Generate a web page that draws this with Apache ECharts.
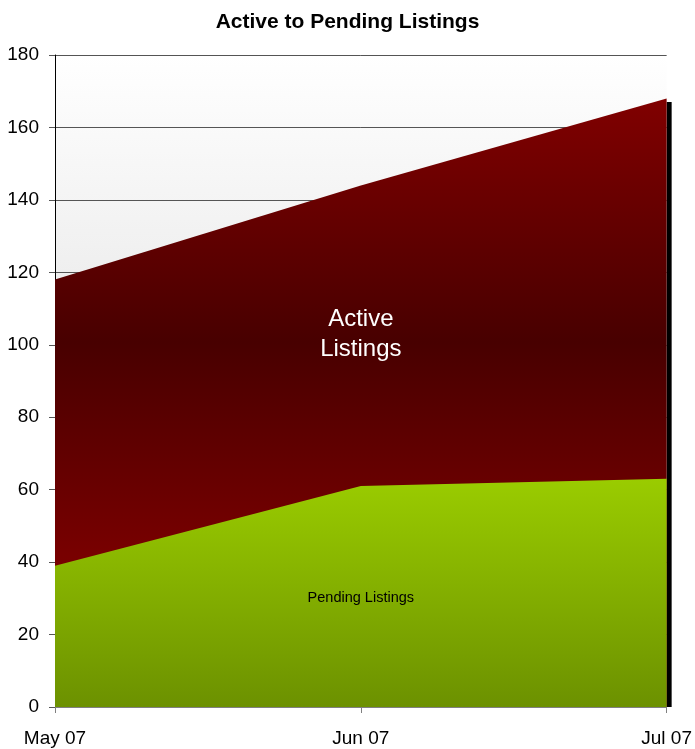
<!DOCTYPE html>
<html><head><meta charset="utf-8">
<script src="https://cdn.jsdelivr.net/npm/echarts@6/dist/echarts.min.js"></script>
<style>html,body{margin:0;padding:0;background:#fff}#c{width:695px;height:749px}</style>
</head><body><div id="c"></div>
<script>
var categories = ['May 07', 'Jun 07', 'Jul 07'];
var activeListings = [118, 144, 168];
var pendingListings = [39, 61, 63];
var yTicks = [0, 20, 40, 60, 80, 100, 120, 140, 160, 180];
var shadowEdge = [[2, 167]];

var chart = echarts.init(document.getElementById('c'));
var font = 'Liberation Sans, Arial, sans-serif';
chart.setOption({
  animation: false,
  backgroundColor: '#fff',
  title: {
    text: 'Active to Pending Listings', left: 'center', top: 7,
    textStyle: {fontFamily: font, fontSize: 21, fontWeight: 'bold', color: '#000'}
  },
  grid: {
    left: 55, right: 28, top: 55, bottom: 42, show: true, borderWidth: 0,
    backgroundColor: new echarts.graphic.LinearGradient(0, 0, 0, 1, [
      {offset: 0, color: '#ffffff'}, {offset: 1, color: '#cfcfcf'}])
  },
  xAxis: {
    type: 'category', data: categories, boundaryGap: false,
    axisLine: {lineStyle: {color: '#808080', width: 1}},
    axisTick: {show: true, length: 6, lineStyle: {color: '#808080'}},
    axisLabel: {fontFamily: font, fontSize: 19, color: '#000', margin: 22}
  },
  yAxis: {
    type: 'value', min: yTicks[0], max: yTicks[yTicks.length - 1], interval: 20,
    axisLine: {show: true, lineStyle: {color: '#000', width: 1}},
    axisTick: {show: true, length: 6, lineStyle: {color: '#555'}},
    axisLabel: {fontFamily: font, fontSize: 19, color: '#000', margin: 16},
    splitLine: {show: true, lineStyle: {color: '#555', width: 1}}
  },
  series: [
    {
      type: 'custom', data: shadowEdge, z: 1, silent: true, clip: false,
      renderItem: function (params, api) {
        var p0 = api.coord([api.value(0), api.value(1)]);
        var p1 = api.coord([api.value(0), 0]);
        return {type: 'rect', shape: {x: p0[0], y: p0[1], width: 5, height: p1[1] - p0[1]},
          style: {fill: '#000'}};
      }
    },
    {
      name: 'Active Listings', type: 'line', data: activeListings, symbol: 'none',
      z: 2,
      lineStyle: {width: 0},
      areaStyle: {
        opacity: 1,
        color: new echarts.graphic.LinearGradient(0, 0, 0, 1, [
          {offset: 0, color: '#800000'}, {offset: 0.4, color: '#480000'},
          {offset: 0.75, color: '#780000'}, {offset: 1, color: '#800000'}])
      },
      markPoint: {
        symbol: 'circle', symbolSize: 0,
        data: [{coord: ['Jun 07', 103], value: 'Active\nListings'}],
        label: {show: true, position: 'inside', formatter: 'Active\nListings', color: '#fff',
          fontFamily: font, fontSize: 24, lineHeight: 30}
      }
    },
    {
      name: 'Pending Listings', type: 'line', data: pendingListings, symbol: 'none',
      z: 3,
      lineStyle: {width: 0},
      areaStyle: {
        opacity: 1,
        color: new echarts.graphic.LinearGradient(0, 0, 0, 1, [
          {offset: 0, color: '#9acc00'}, {offset: 1, color: '#6c9100'}])
      },
      markPoint: {
        symbol: 'circle', symbolSize: 0,
        data: [{coord: ['Jun 07', 30.2], value: 'Pending Listings'}],
        label: {show: true, position: 'inside', formatter: 'Pending Listings', color: '#000',
          fontFamily: font, fontSize: 14.5}
      }
    }
  ]
});
</script></body></html>
